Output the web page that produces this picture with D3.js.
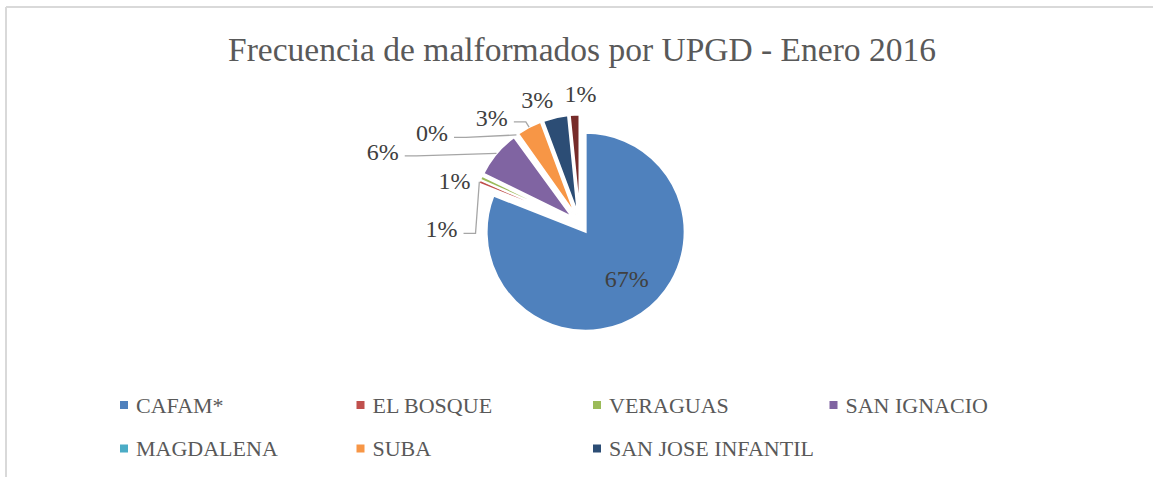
<!DOCTYPE html>
<meta charset="utf-8">
<script src="https://cdn.jsdelivr.net/npm/d3@7"></script>
<style>
body { margin: 0; background: #fff; }
text { font-family: "Liberation Serif", "Times New Roman", serif; }
</style>
<body>
<script>
// data (labels show the share, slices use value/sum)
var categories = ["CAFAM*", "EL BOSQUE", "VERAGUAS", "SAN IGNACIO", "MAGDALENA", "SUBA", "SAN JOSE INFANTIL", ""]
var shares = [0.67, 0.0051, 0.0055, 0.064, 0.002, 0.034, 0.034, 0.013]
var colors = ["#4F81BD", "#C0504D", "#9BBB59", "#8064A2", "#4BACC6", "#F79646", "#2C4D75", "#772C2A"]
var title = "Frecuencia de malformados por UPGD - Enero 2016"

// label placement relative to slice middle: [angle shift deg, radius / pie radius]
var labelNudge = [[-6, 0.73], [-25, 1.40], [-6, 1.34], [-20, 2.12], [-23, 1.75], [-12, 1.39], [-6, 1.32], [3, 1.31]]

var W = 1153, H = 477
var cx = 580, cy = 223.5, r = 99, explode = 10

var svg = d3.select("body").append("svg").attr("width", W).attr("height", H)

// chart frame (only top and left edges are visible)
svg.append("line").attr("x1", 6).attr("x2", W).attr("y1", 7).attr("y2", 7).attr("stroke", "#d9d9d9").attr("stroke-width", 2)
svg.append("line").attr("x1", 6).attr("x2", 6).attr("y1", 7).attr("y2", H).attr("stroke", "#d9d9d9").attr("stroke-width", 2)

svg.append("text").attr("x", 582).attr("y", 61).attr("text-anchor", "middle")
    .attr("fill", "#595959").style("font-size", "33.5px").text(title)

var data = categories.map((c, i) => ({name: c, value: shares[i], color: colors[i], i: i}))
var pie = d3.pie().sort(null).value(d => d.value)
var arcs = pie(data)
var arc = d3.arc().innerRadius(0).outerRadius(r)

var g = svg.append("g").attr("transform", "translate(" + cx + "," + cy + ")")

function polar(a, rad) { return [rad * Math.sin(a), -rad * Math.cos(a)] }

g.selectAll("path.slice").data(arcs).enter().append("path").attr("class", "slice")
    .attr("d", arc)
    .attr("transform", d => { var m = (d.startAngle + d.endAngle) / 2, p = polar(m, explode); return "translate(" + p[0] + "," + p[1] + ")" })
    .attr("fill", d => d.data.color)
    .attr("stroke", "#fff").attr("stroke-width", 2)

var fmt = d3.format(".0%")
arcs.forEach((d, i) => {
    var m = (d.startAngle + d.endAngle) / 2
    var nud = labelNudge[i]
    var a = m + nud[0] * Math.PI / 180
    var p = polar(a, nud[1] * r)
    var t = g.append("text").attr("x", p[0]).attr("y", p[1] + 8).attr("text-anchor", "middle")
        .attr("fill", "#404040").style("font-size", "24px").text(fmt(d.data.value))
    var def = polar(m, 1.3 * r)
    var dist = Math.hypot(def[0] - p[0], def[1] - p[1])
    if (i > 0 && dist > 20) {
        var w = t.node().getComputedTextLength()
        var sx = p[0] + w / 2 + 6, sy = p[1] + 4
        var end = polar(m, r + explode)
        g.append("path").attr("d", "M" + sx + "," + sy + "H" + (sx + 12) + "L" + end[0] + "," + end[1])
            .attr("fill", "none").attr("stroke", "#a6a6a6").attr("stroke-width", 1.3)
    }
})

// legend, 4 columns
var legendItems = data.filter(d => d.name !== "")
var lg = svg.append("g").selectAll("g").data(legendItems).enter().append("g")
    .attr("transform", (d, i) => "translate(" + (120 + (i % 4) * 236.5) + "," + (401 + Math.floor(i / 4) * 43.5) + ")")
lg.append("rect").attr("width", 8).attr("height", 8).attr("fill", d => d.color)
lg.append("text").attr("x", 16).attr("y", 11.5).attr("fill", "#595959").style("font-size", "22px").text(d => d.name)
</script>
</body>
